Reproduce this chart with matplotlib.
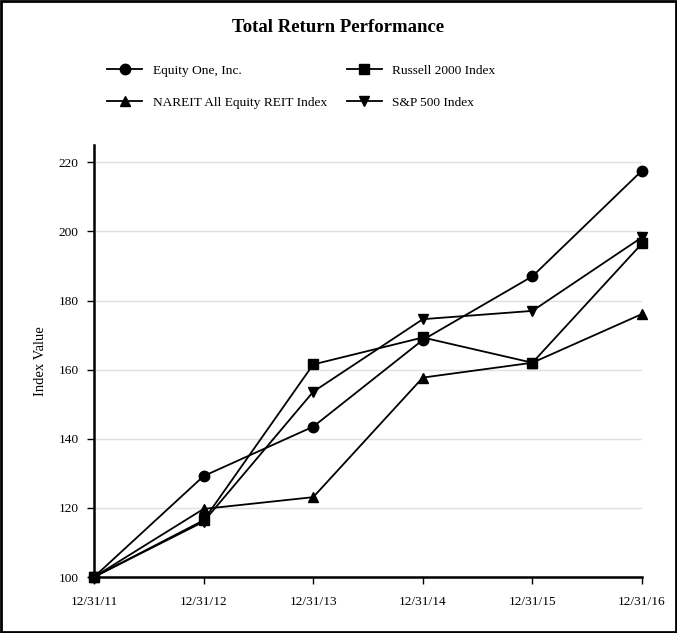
import matplotlib
matplotlib.use("Agg")
import matplotlib.pyplot as plt
from matplotlib.lines import Line2D
from matplotlib.patches import Rectangle

dates = ["12/31/11", "12/31/12", "12/31/13", "12/31/14", "12/31/15", "12/31/16"]
equity_one = [100, 129.2, 143.5, 168.6, 187.0, 217.6]
russell_2000 = [100, 116.4, 161.5, 169.3, 162.0, 196.5]
nareit = [100, 119.7, 123.1, 157.7, 162.0, 176.1]
sp500 = [100, 116.0, 153.6, 174.6, 177.0, 198.3]

series = [
    ("Equity One, Inc.", equity_one, "o"),
    ("Russell 2000 Index", russell_2000, "s"),
    ("NAREIT All Equity REIT Index", nareit, "^"),
    ("S&P 500 Index", sp500, "v"),
]

plt.rcParams['font.family'] = ['Liberation Serif', 'DejaVu Serif']

W, H = 677, 633
fig = plt.figure(figsize=(W / 100, H / 100), dpi=100)
ax = fig.add_axes([94 / W, 1 - 577 / H, (642 - 94) / W, (577 - 145) / H])

x = list(range(len(dates)))
for label, vals, m in series:
    ax.plot(x, vals, color="black", lw=1.3, marker=m, markersize=7.5, label=label,
            clip_on=False, zorder=3)

ax.set_xlim(0, 5)
ax.set_ylim(100, 225)
ax.set_yticks([100, 120, 140, 160, 180, 200, 220])
ax.set_xticks(x)
ax.set_xticklabels(dates)
ax.grid(axis="y", color="#e0e0e0", lw=1)
ax.set_axisbelow(True)
for s in ["top", "right"]:
    ax.spines[s].set_visible(False)
ax.spines["left"].set_linewidth(1.8)
ax.spines["bottom"].set_linewidth(1.8)
ax.tick_params(axis="both", direction="out", length=5, width=1, labelsize=9.6, colors="black")
ax.tick_params(axis="x", pad=9)
ax.tick_params(axis="y", pad=6)
ax.set_ylabel("Index Value", fontsize=10.5, labelpad=8)

fig.text(0.5, 1 - 28 / H, "Total Return Performance", ha="center", va="center",
         fontsize=13.5, fontweight="bold")

handles = [Line2D([0], [0], color="black", lw=1.3, marker=m, markersize=7.5)
           for _, _, m in series]
labels = [s[0] for s in series]
order = [0, 2, 1, 3]
fig.legend([handles[i] for i in order], [labels[i] for i in order],
           loc="upper left", bbox_to_anchor=(102 / W, 1 - 59 / H), ncol=2,
           frameon=False, fontsize=9.6, handlelength=2.6, handletextpad=0.8,
           columnspacing=1.5, labelspacing=1.5, borderaxespad=0)

fig.patches.append(Rectangle((0.0015, 0.0015), 0.997, 0.997, transform=fig.transFigure,
                             fill=False, edgecolor="black", lw=2))

fig.savefig("out.png", dpi=100)
